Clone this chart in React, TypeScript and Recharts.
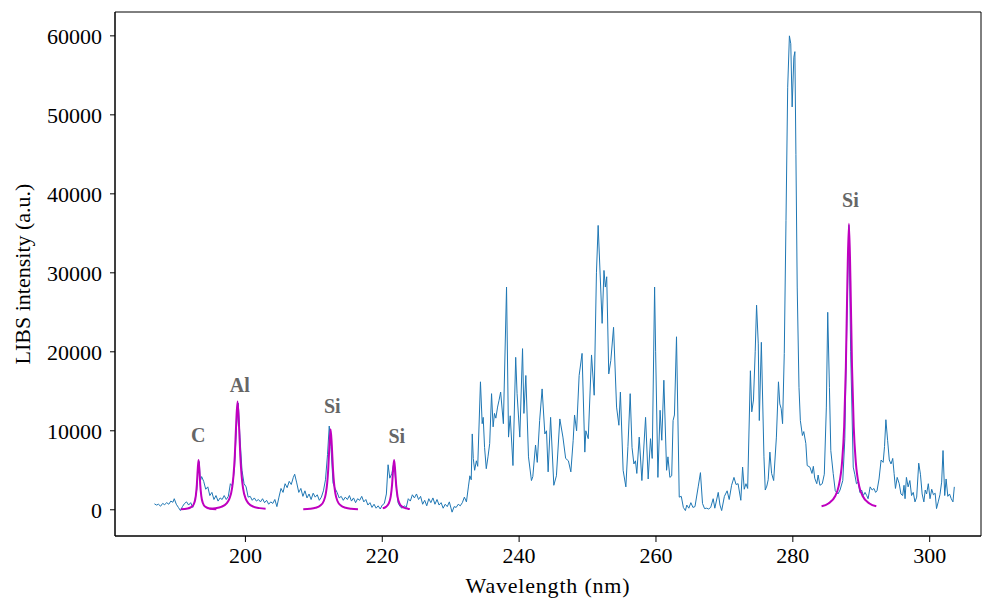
import { LineChart, Line, XAxis, YAxis, ReferenceDot, ReferenceArea } from 'recharts';

// measured spectrum, [wavelength nm, intensity a.u.]
const spectrum: [number, number][] = [
  [186.7, 750], [187.0, 600], [187.3, 700], [187.6, 450], [187.9, 800], [188.2, 650], [188.5, 900], [188.8, 700],
  [189.1, 1100], [189.4, 950], [189.6, 1400], [189.9, 700], [190.2, 300], [190.5, -100], [190.8, 400], [191.1, 800],
  [191.4, 1000], [191.7, 600], [192.0, 900], [192.3, 300], [192.6, 1100], [192.9, 2600], [193.1, 5600], [193.25, 6100],
  [193.4, 3600], [193.6, 4200], [193.9, 3600], [194.2, 2600], [194.5, 2900], [194.8, 1800], [195.1, 2200], [195.4, 1300],
  [195.7, 1800], [196.0, 1100], [196.3, 1500], [196.6, 1300], [196.9, 1800], [197.2, 1300], [197.5, 1700], [197.8, 3300],
  [198.1, 3000], [198.4, 5200], [198.7, 10500], [198.95, 13500], [199.2, 9200], [199.5, 5000], [199.8, 3300], [200.1, 2900],
  [200.4, 1600], [200.7, 1700], [201.0, 1200], [201.3, 1500], [201.6, 1100], [201.9, 1300], [202.2, 1000], [202.5, 1400],
  [202.8, 900], [203.1, 1200], [203.4, 700], [203.7, 1000], [204.0, 800], [204.3, 1300], [204.6, 400], [204.9, 1600],
  [205.2, 2700], [205.5, 2200], [205.8, 3300], [206.1, 2800], [206.4, 3600], [206.7, 3200], [207.0, 4100], [207.2, 4500],
  [207.5, 3400], [207.8, 2200], [208.1, 2700], [208.4, 1700], [208.7, 2400], [209.0, 1500], [209.3, 2000], [209.6, 1300],
  [209.9, 2100], [210.2, 1600], [210.5, 1900], [210.8, 1200], [211.1, 1600], [211.4, 2400], [211.7, 3800], [212.0, 7000],
  [212.25, 10600], [212.5, 8000], [212.8, 3400], [213.1, 2700], [213.4, 2200], [213.7, 1500], [214.0, 1700], [214.3, 1200],
  [214.6, 1600], [214.9, 1300], [215.2, 1800], [215.5, 1100], [215.8, 1500], [216.1, 900], [216.4, 1400], [216.7, 1200],
  [217.0, 1700], [217.3, 1000], [217.6, 1300], [217.9, 600], [218.2, 900], [218.5, 300], [218.8, 700], [219.1, 200],
  [219.4, 500], [219.7, 100], [220.0, 600], [220.3, 800], [220.6, 2000], [220.85, 5700], [221.1, 4000], [221.4, 4600],
  [221.7, 6000], [222.0, 3300], [222.3, 900], [222.6, 400], [222.9, 200], [223.2, 500], [223.5, 300], [223.8, 1400],
  [224.1, 1100], [224.4, 1900], [224.7, 1500], [225.0, 2000], [225.3, 1300], [225.6, 1700], [225.9, 700], [226.2, 1200],
  [226.5, 500], [226.8, 1400], [227.1, 900], [227.4, 1500], [227.7, 700], [228.0, 1300], [228.3, 600], [228.6, 900],
  [228.9, 200], [229.2, 700], [229.5, 400], [229.8, 1000], [230.2, -300], [230.5, 400], [230.8, 300], [231.1, 700],
  [231.4, 500], [231.7, 900], [232.0, 1600], [232.3, 1000], [232.6, 3000], [232.8, 4300], [233.0, 3800], [233.15, 9600],
  [233.3, 6500], [233.5, 5000], [233.75, 6200], [233.95, 5500], [234.35, 16200], [234.6, 10900], [234.75, 11700], [234.95, 7900],
  [235.2, 5200], [235.45, 6700], [235.7, 8400], [235.97, 14700], [236.2, 10500], [236.4, 12200], [236.6, 11600], [236.85, 13000],
  [237.05, 13800], [237.3, 14900], [237.7, 10900], [238.16, 28200], [238.45, 9200], [238.7, 11900], [239.1, 5600], [239.5, 19300],
  [239.7, 14700], [240.1, 9200], [240.5, 20400], [240.7, 12200], [240.98, 17000], [241.37, 6700], [241.8, 3700], [242.0, 4200],
  [242.4, 8200], [242.65, 6000], [243.0, 11300], [243.36, 15300], [243.76, 9600], [244.0, 10000], [244.24, 4800], [244.6, 11700],
  [245.07, 3100], [245.45, 4300], [245.95, 11500], [246.4, 9200], [246.8, 6500], [247.2, 6200], [247.56, 4800], [247.9, 8800],
  [248.1, 12000], [248.4, 10000], [248.77, 17000], [249.2, 19800], [249.6, 7300], [249.75, 10000], [250.1, 9000], [250.58, 19600],
  [250.97, 14500], [251.3, 30000], [251.55, 36000], [252.13, 23600], [252.4, 30300], [252.6, 28200], [252.8, 29500], [253.1, 17200],
  [253.4, 18900], [253.8, 23100], [254.24, 13000], [254.58, 10700], [254.8, 14900], [255.2, 5000], [255.6, 2900], [255.9, 8000],
  [256.23, 14700], [256.5, 7900], [256.77, 5800], [257.0, 6200], [257.2, 4600], [257.55, 9200], [257.94, 3700], [258.48, 11700],
  [258.86, 3900], [259.2, 9000], [259.45, 6500], [259.8, 28200], [259.95, 20000], [260.28, 4100], [260.6, 12600], [260.85, 8800],
  [261.15, 16400], [261.55, 5000], [261.75, 6700], [262.03, 4100], [262.3, 4300], [262.5, 11300], [262.7, 12000], [263.0, 21900],
  [263.4, 1600], [263.7, 1700], [264.0, 300], [264.3, -100], [264.5, 600], [264.8, 200], [265.1, 900], [265.4, 300],
  [265.7, 400], [266.17, 2900], [266.5, 4700], [266.8, 800], [267.1, 150], [267.4, 200], [267.7, 100], [268.0, 300],
  [268.36, 1400], [268.6, 200], [269.1, 2200], [269.35, 600], [269.6, -100], [270.0, 1700], [270.4, 2400], [270.7, 1300],
  [271.05, 3100], [271.4, 4100], [271.7, 3200], [272.0, 3300], [272.4, 1200], [272.66, 5400], [272.9, 2600], [273.15, 3300],
  [273.4, 2700], [273.8, 17600], [274.0, 12400], [274.25, 13900], [274.5, 20000], [274.7, 25900], [274.95, 21000], [275.1, 11300],
  [275.4, 21200], [275.78, 6700], [275.97, 2500], [276.2, 3000], [276.4, 3800], [276.65, 7300], [276.9, 4600], [277.2, 3700],
  [277.6, 9200], [277.9, 16200], [278.1, 13400], [278.3, 12800], [278.5, 10900], [278.75, 19800], [279.0, 36600], [279.25, 53500],
  [279.5, 60000], [279.7, 59000], [279.9, 51000], [280.15, 57300], [280.3, 58000], [280.45, 45000], [280.64, 28200], [280.9, 15500],
  [281.1, 11300], [281.4, 9400], [281.6, 9900], [281.9, 8400], [282.1, 5600], [282.5, 5400], [282.8, 4600], [283.0, 5500],
  [283.2, 4000], [283.5, 3300], [283.7, 4400], [283.96, 3100], [284.3, 3300], [284.6, 4500], [284.9, 13000], [285.1, 25000],
  [285.35, 15500], [285.55, 7500], [285.9, 4600], [286.2, 2400], [286.6, 2000], [286.9, 2500], [287.3, 3700], [287.6, 9000],
  [287.9, 24000], [288.2, 36000], [288.45, 20000], [288.83, 5400], [289.05, 4500], [289.3, 3300], [289.55, 3500], [289.8, 2200],
  [290.05, 2500], [290.3, 1800], [290.55, 2200], [290.8, 1800], [291.0, 1400], [291.3, 2900], [291.6, 2500], [291.85, 2700],
  [292.1, 2200], [292.3, 2400], [292.6, 3900], [292.9, 6300], [293.2, 6000], [293.4, 8000], [293.6, 11400], [293.85, 8800],
  [294.1, 6300], [294.35, 5800], [294.6, 6500], [294.8, 4600], [295.0, 2700], [295.25, 4100], [295.55, 3300], [295.8, 2000],
  [296.05, 1800], [296.25, 3100], [296.4, 1400], [296.6, 4100], [296.85, 2900], [297.1, 3700], [297.35, 1800], [297.6, 2200],
  [297.85, 1000], [298.1, 1600], [298.4, 5900], [298.65, 4500], [298.9, 2000], [299.15, 1000], [299.35, 2500], [299.55, 2000],
  [299.8, 3300], [300.05, 1400], [300.3, 2600], [300.55, 1900], [300.8, 2100], [301.0, 150], [301.25, 1000], [301.5, 1900],
  [301.75, 3500], [301.95, 7500], [302.2, 1800], [302.4, 3900], [302.65, 1700], [302.9, 2000], [303.15, 1400], [303.4, 1000],
  [303.6, 2900],
];

// fitted line profiles
const fitC: [number, number][] = [
  [190.55, 57], [191.55, 150], [192.15, 370], [192.55, 930], [192.75, 1770], [192.9, 3150], [193.025, 5040], [193.15, 6300],
  [193.275, 5040], [193.4, 3150], [193.55, 1770], [193.75, 930], [194.15, 370], [194.75, 150], [195.75, 57],
];
const fitAl: [number, number][] = [
  [194.75, 130], [195.65, 210], [196.45, 370], [197.25, 810], [197.65, 1370], [198.05, 2740], [198.25, 4250], [198.45, 6850],
  [198.65, 10960], [198.85, 13700], [199.05, 10960], [199.25, 6850], [199.45, 4250], [199.65, 2740], [200.05, 1370],
  [200.45, 810], [201.25, 370], [202.05, 210], [202.95, 130],
];
const fitSi212: [number, number][] = [
  [208.45, 78], [209.45, 130], [210.25, 255], [210.95, 530], [211.45, 1110], [211.75, 2040], [211.95, 3370], [212.1, 5100],
  [212.275, 8160], [212.45, 10200], [212.625, 8160], [212.8, 5100], [212.95, 3370], [213.15, 2040], [213.45, 1110],
  [213.95, 530], [214.65, 255], [215.45, 130], [216.45, 78],
];
const fitSi222: [number, number][] = [
  [220.07, 200], [220.53, 370], [220.93, 775], [221.23, 1670], [221.43, 3150], [221.58, 5040], [221.73, 6300],
  [221.88, 5040], [222.03, 3150], [222.23, 1670], [222.53, 775], [222.93, 370], [223.73, 140], [224.02, 106],
];
const fitSi288: [number, number][] = [
  [284.2, 450], [285.2, 800], [286.2, 1740], [286.7, 3000], [287.2, 6080], [287.5, 10500], [287.75, 18100], [287.975, 28960],
  [288.2, 36200], [288.425, 28960], [288.65, 18100], [288.9, 10500], [289.2, 6080], [289.7, 3000], [290.2, 1740],
  [291.2, 800], [292.2, 450],
];

const peakLabels = [
  { text: 'C', wl: 193.1, y: 9480 },
  { text: 'Al', wl: 199.17, y: 15810 },
  { text: 'Si', wl: 212.69, y: 13150 },
  { text: 'Si', wl: 222.12, y: 9350 },
  { text: 'Si', wl: 288.42, y: 39250 },
];

const xTicks = [200, 220, 240, 260, 280, 300];
const yTicks = [0, 10000, 20000, 30000, 40000, 50000, 60000];
const X_DOMAIN: [number, number] = [180.94, 307.5];
const Y_DOMAIN: [number, number] = [-3320, 63020];

const FONT = '"Liberation Serif", "DejaVu Serif", serif';
const rows = (pts: [number, number][]) => pts.map(([x, y]) => ({ x, y }));

const fits = [fitC, fitAl, fitSi212, fitSi222, fitSi288];

export default function App() {
  const tick = { fontSize: 22, fill: '#000', fontFamily: FONT };
  return (
    <div style={{ position: 'absolute', left: 0, top: 0, background: '#fff', fontFamily: FONT }}>
      <LineChart width={982} height={600} margin={{ top: 12, right: 1, bottom: 0, left: 0 }}>
        <XAxis
          dataKey="x"
          type="number"
          domain={X_DOMAIN}
          ticks={xTicks}
          allowDataOverflow
          height={64}
          tick={tick}
          tickSize={6}
          tickMargin={5}
          stroke="#000"
          tickLine={{ stroke: '#000' }}
          label={{ value: 'Wavelength (nm)', position: 'center', dy: 17, fontSize: 22, fill: '#000', fontFamily: FONT, letterSpacing: 0.8 }}
        />
        <YAxis
          dataKey="y"
          type="number"
          domain={Y_DOMAIN}
          ticks={yTicks}
          allowDataOverflow
          width={115}
          tick={tick}
          tickSize={5}
          tickMargin={8}
          stroke="#000"
          tickLine={{ stroke: '#000' }}
          label={{ value: 'LIBS intensity (a.u.)', angle: -90, position: 'center', dx: -35, fontSize: 22, fill: '#000', fontFamily: FONT }}
        />
        <ReferenceArea x1={X_DOMAIN[0]} x2={X_DOMAIN[1]} y1={Y_DOMAIN[0]} y2={Y_DOMAIN[1]} fill="none" fillOpacity={0} stroke="#000" strokeWidth={1} />
        <Line
          data={rows(spectrum)}
          dataKey="y"
          type="linear"
          stroke="#1f77b4"
          strokeWidth={1}
          dot={false}
          isAnimationActive={false}
        />
        {fits.map((f, i) => (
          <Line
            key={i}
            data={rows(f)}
            dataKey="y"
            type="monotone"
            stroke="#bf00bf"
            strokeWidth={2}
            dot={false}
            isAnimationActive={false}
          />
        ))}
        {peakLabels.map((p, i) => (
          <ReferenceDot
            key={i}
            x={p.wl}
            y={p.y}
            r={0}
            fill="none"
            stroke="none"
            label={{ value: p.text, position: 'center', fill: '#666', fontSize: 20, fontWeight: 'bold', fontFamily: FONT }}
          />
        ))}
      </LineChart>
    </div>
  );
}
